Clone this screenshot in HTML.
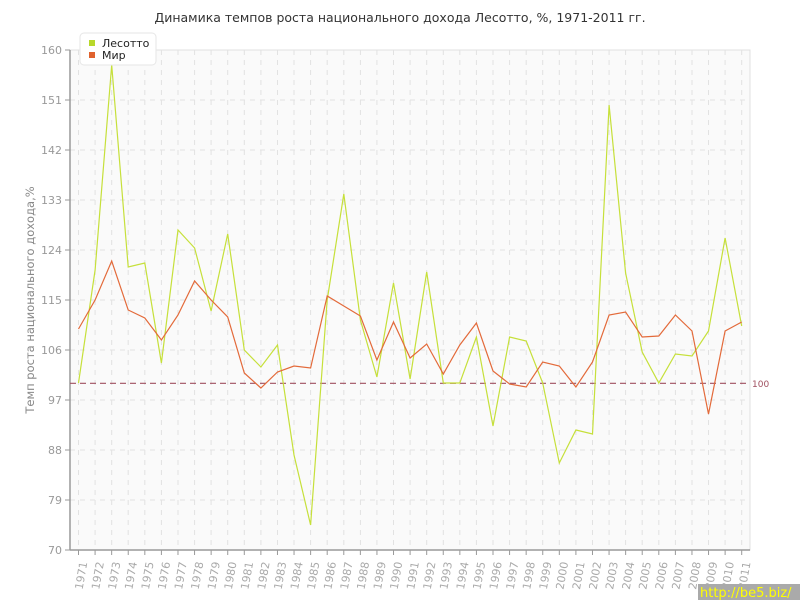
<!DOCTYPE html>
<html><head><meta charset="utf-8"><style>
body{margin:0;background:#fff;}
svg{display:block;font-family:"DejaVu Sans","Liberation Sans",sans-serif;}
</style></head><body>
<svg id="c" width="800" height="600" xmlns="http://www.w3.org/2000/svg"></svg>
<script>
const L=[383,270,65,267,263,363,230,248,311,234,350,367,345,455,525,300,194,320,377,283,379,272,383,383,337,426,337,341,383,463,430,434,105,273,352,383,354,356,331,238,326];
const M=[329,300,261,310,318,340,315,281,300,317,373,388,372,366,368,296,306,316,360,322,358,344,374,345,323,371,384,387,362,366,387,362,315,312,337,336,315,331,414,331,322];
const X=i=>78.5+i*16.58;
let s='';
s+='<rect x="70" y="50" width="680" height="500" fill="#fafafa" stroke="#e0e0e0"/>';
for(let i=0;i<41;i++){const x=X(i).toFixed(1);s+=`<line x1="${x}" y1="50" x2="${x}" y2="550" stroke="#e2e2e2" stroke-dasharray="5,5"/>`;}
for(let k=0;k<=10;k++){const v=160-9*k;const y=50+k*50;
 if(k>0&&k<10)s+=`<line x1="70" y1="${y}" x2="750" y2="${y}" stroke="#e2e2e2" stroke-dasharray="5,5"/>`;
 s+=`<line x1="65" y1="${y}" x2="70" y2="${y}" stroke="#999"/>`;
 s+=`<text x="62" y="${y+4}" text-anchor="end" font-size="11" fill="#999">${v}</text>`;}
s+='<line x1="70" y1="50" x2="70" y2="550" stroke="#999" stroke-width="1.5"/><line x1="70" y1="550" x2="750" y2="550" stroke="#999" stroke-width="1.5"/>';
for(let i=0;i<41;i++){const x=X(i);s+=`<line x1="${x}" y1="550" x2="${x}" y2="555" stroke="#999"/>`;
 s+=`<text transform="translate(${x+4},590) rotate(-80)" font-size="11" fill="#aaa">${1971+i}</text>`;}
s+='<line x1="70" y1="383.3" x2="750" y2="383.3" stroke="#a05060" stroke-width="1.2" stroke-dasharray="6,4"/>';
s+='<text x="752" y="387" font-size="9" fill="#a05060">100</text>';
s+=`<polyline fill="none" stroke="#c6e03a" stroke-width="1.2" points="${L.map((y,i)=>X(i).toFixed(1)+','+y).join(' ')}"/>`;
s+=`<polyline fill="none" stroke="#e36a3a" stroke-width="1.2" points="${M.map((y,i)=>X(i).toFixed(1)+','+y).join(' ')}"/>`;
s+='<rect x="80" y="33" width="76" height="32" rx="4" fill="#fff" stroke="#e6e6e6"/>';
s+='<rect x="89" y="40" width="6" height="6" fill="#b8d82a"/><text x="102" y="47" font-size="11" fill="#222">Лесотто</text>';
s+='<rect x="89" y="52" width="6" height="6" fill="#e0622e"/><text x="102" y="59" font-size="11" fill="#222">Мир</text>';
s+='<text x="400" y="22" text-anchor="middle" font-size="12.5" fill="#333">Динамика темпов роста национального дохода Лесотто, %, 1971-2011 гг.</text>';
s+='<text transform="translate(34,300) rotate(-90)" text-anchor="middle" font-size="11.5" fill="#888">Темп роста национального дохода,%</text>';
s+='<rect x="698" y="584" width="102" height="16" fill="#aaa"/><text x="700" y="597" font-size="13" fill="#ff0">http://be5.biz/</text>';
document.getElementById('c').innerHTML=s;
</script>
</body></html>
